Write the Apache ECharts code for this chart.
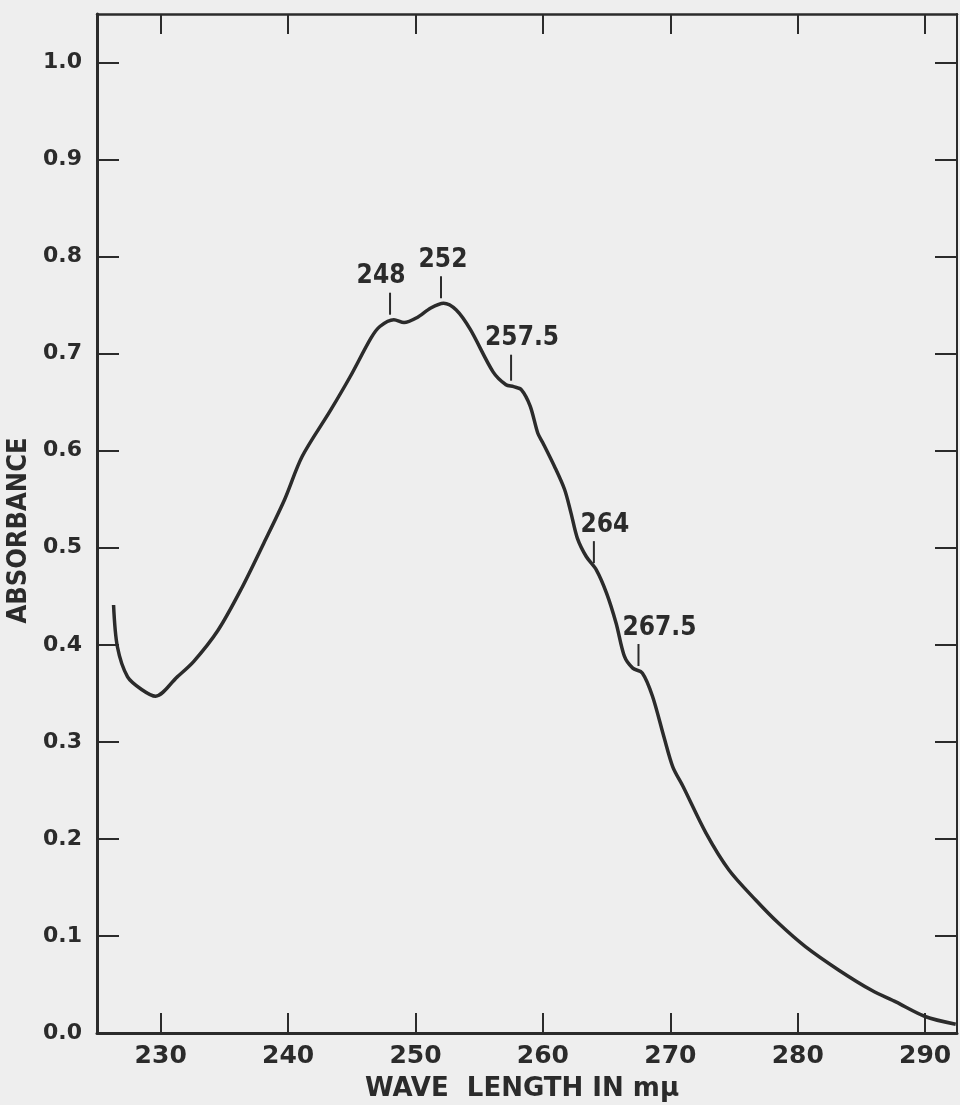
<!DOCTYPE html>
<html>
<head>
<meta charset="utf-8">
<script src="https://cdn.jsdelivr.net/npm/echarts@6/dist/echarts.min.js"></script>
<style>
html,body{margin:0;padding:0;background:#eeeeee;}
#chart{width:960px;height:1105px;}
</style>
</head>
<body>
<div id="chart"></div>
<script>
// ---- data ----
const wavelength = [226.3,226.6,227.4,228.5,229.6,231.3,232.6,234.5,236.3,238.1,239.7,241.1,243.3,244.9,246.5,247.2,248.3,249.1,250.1,251.2,252.2,253.2,254.3,256.1,257.1,257.7,258.3,259.0,259.6,260.0,260.9,261.7,262.2,262.7,263.4,264.2,265.0,265.75,266.4,267.05,267.8,268.6,269.5,270.2,271.0,272.8,274.6,276.7,278.5,280.6,283.2,285.8,287.7,290.0,292.4];
const absorbance = [0.441,0.398,0.367,0.354,0.347,0.367,0.383,0.415,0.457,0.505,0.549,0.594,0.641,0.677,0.716,0.728,0.735,0.732,0.737,0.747,0.752,0.745,0.725,0.681,0.668,0.666,0.663,0.646,0.618,0.608,0.584,0.560,0.536,0.510,0.491,0.477,0.453,0.422,0.388,0.376,0.371,0.347,0.305,0.274,0.254,0.206,0.168,0.137,0.113,0.089,0.065,0.044,0.032,0.017,0.009];
const annoX = [248, 252, 257.5, 264, 267.5];
const annoY = [0.735, 0.752, 0.667, 0.479, 0.373];
const xTicks = [230, 240, 250, 260, 270, 280, 290];
const yTicks = [0, 0.1, 0.2, 0.3, 0.4, 0.5, 0.6, 0.7, 0.8, 0.9, 1.0];
const xTitle = 'WAVE  LENGTH IN m\u03bc';
const yTitle = 'ABSORBANCE';

// ---- styling ----
const INK = '#2b2b2b';
const labelDx = [-9, 2, 11, 11, 21];
const tickLen = [22, 22, 26, 22, 22];
const FONT = '"DejaVu Sans", sans-serif';
const CFONT = '"DejaVu Sans Condensed", "DejaVu Sans", sans-serif';

const curve = wavelength.map((x, i) => [x, absorbance[i]]);
const annos = annoX.map((x, i) => [x, annoY[i]]);

const chart = echarts.init(document.getElementById('chart'), null, {renderer: 'canvas'});

const xBase = {
  type: 'value', min: 225, max: 292.5,
  splitLine: {show: false},
  axisLine: {show: true, onZero: false, lineStyle: {color: INK, width: 3}},
  axisTick: {show: true, inside: true, length: 20, customValues: xTicks, lineStyle: {color: INK, width: 2}}
};
const yBase = {
  type: 'value', min: 0, max: 1.05,
  splitLine: {show: false},
  axisLine: {show: true, onZero: false, lineStyle: {color: INK, width: 3}},
  axisTick: {show: true, inside: true, length: 22, customValues: yTicks, lineStyle: {color: INK, width: 2}}
};

chart.setOption({
  backgroundColor: '#eeeeee',
  animation: false,
  grid: {left: 97, right: 3, top: 14, bottom: 72, containLabel: false, outerBoundsMode: 'none'},
  xAxis: [
    Object.assign({}, xBase, {
      position: 'bottom',
      name: xTitle, nameLocation: 'middle', nameGap: 43,
      nameTextStyle: {color: INK, fontFamily: FONT, fontWeight: 'bold', fontSize: 26, padding: [0, 10, 0, 0]},
      axisLabel: {show: true, customValues: xTicks, margin: 11, color: INK, fontFamily: FONT, fontWeight: 'bold', fontSize: 25,
        formatter: v => String(v)}
    }),
    Object.assign({}, xBase, {
      position: 'top',
      axisLine: {show: true, onZero: false, lineStyle: {color: INK, width: 2.5}},
      axisLabel: {show: false}
    })
  ],
  yAxis: [
    Object.assign({}, yBase, {
      position: 'left',
      name: yTitle, nameLocation: 'middle', nameGap: 61, nameRotate: 90,
      nameTextStyle: {color: INK, fontFamily: CFONT, fontWeight: 'bold', fontSize: 27, padding: [0, 14, 0, 0]},
      axisLabel: {show: true, customValues: yTicks, margin: 15, color: INK, fontFamily: FONT, fontWeight: 'bold', fontSize: 22,
        formatter: v => v.toFixed(1)}
    }),
    Object.assign({}, yBase, {
      position: 'right',
      axisLine: {show: true, onZero: false, lineStyle: {color: INK, width: 2}},
      axisLabel: {show: false}
    })
  ],
  series: [
    {
      type: 'line', xAxisIndex: 0, yAxisIndex: 0,
      data: curve, showSymbol: false, smooth: 0.3,
      lineStyle: {color: INK, width: 3.5}
    },
    {
      type: 'custom', xAxisIndex: 0, yAxisIndex: 0,
      data: annos,
      renderItem: function (params, api) {
        const p = api.coord([api.value(0), api.value(1)]);
        const i = params.dataIndex;
        const y1 = p[1] - 5;
        const y2 = y1 - tickLen[i];
        return {
          type: 'group',
          children: [
            {type: 'line', shape: {x1: p[0], y1: y1, x2: p[0], y2: y2},
             style: {stroke: INK, lineWidth: 2}},
            {type: 'text',
             style: {text: String(annoX[i]), x: p[0] + labelDx[i], y: y2 - 3,
                     align: 'center', verticalAlign: 'bottom',
                     font: 'bold 26px ' + CFONT, fill: INK}}
          ]
        };
      }
    }
  ]
});
</script>
</body>
</html>
